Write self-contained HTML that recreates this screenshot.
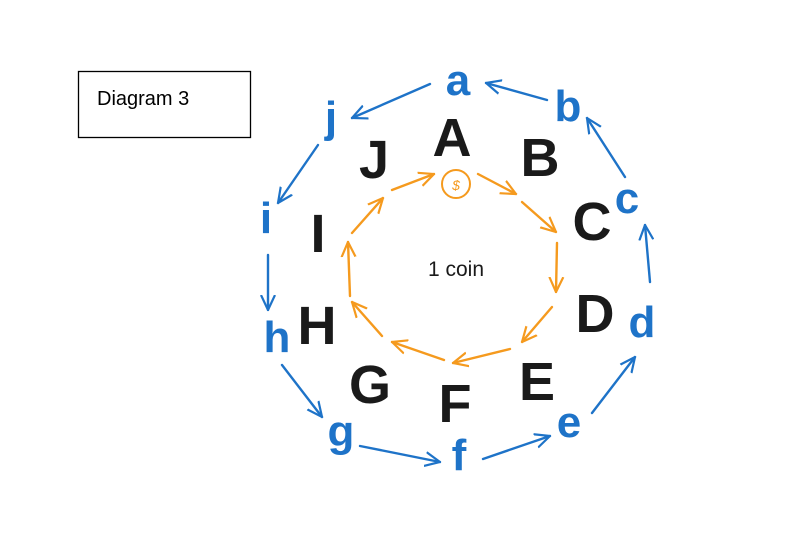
<!DOCTYPE html>
<html><head><meta charset="utf-8"><style>
html,body{margin:0;padding:0;background:#fff;width:793px;height:555px;overflow:hidden}
</style></head><body>
<svg width="793" height="555" viewBox="0 0 793 555" xmlns="http://www.w3.org/2000/svg">
<defs>
<marker id="bh" viewBox="0 0 16 16" refX="15" refY="8" markerWidth="16" markerHeight="16" markerUnits="userSpaceOnUse" orient="auto"><path d="M0,1 L15,8 L0,15" fill="none" stroke="#1e73c8" stroke-width="2.2"/></marker>
<marker id="oh" viewBox="0 0 16 16" refX="15" refY="8" markerWidth="16" markerHeight="16" markerUnits="userSpaceOnUse" orient="auto"><path d="M0,1 L15,8 L0,15" fill="none" stroke="#f59a1e" stroke-width="2.2"/></marker>
</defs>
<rect x="78.5" y="71.5" width="172" height="66" fill="#fff" stroke="#000" stroke-width="1.3"/>
<text x="97" y="105" font-family="Liberation Sans, sans-serif" font-size="20" fill="#000">Diagram 3</text>

<g stroke="#1e73c8" stroke-width="2.4" fill="none" marker-end="url(#bh)" stroke-linecap="round">
<line x1="547" y1="100" x2="486" y2="83"/>
<line x1="430" y1="84" x2="352" y2="118"/>
<line x1="318" y1="145" x2="278" y2="203"/>
<line x1="268" y1="255" x2="268" y2="310"/>
<line x1="282" y1="365" x2="322" y2="417"/>
<line x1="360" y1="446" x2="440" y2="462"/>
<line x1="483" y1="459" x2="550" y2="436"/>
<line x1="592" y1="413" x2="635" y2="357"/>
<line x1="650" y1="282" x2="645" y2="225"/>
<line x1="625" y1="177" x2="587" y2="118"/>
</g>
<g stroke="#f59a1e" stroke-width="2.4" fill="none" marker-end="url(#oh)" stroke-linecap="round">
<line x1="478" y1="174" x2="516" y2="194"/>
<line x1="522" y1="202" x2="556" y2="232"/>
<line x1="557" y1="243" x2="556" y2="292"/>
<line x1="552" y1="307" x2="522" y2="342"/>
<line x1="510" y1="349" x2="453" y2="363"/>
<line x1="444" y1="360" x2="392" y2="342"/>
<line x1="382" y1="336" x2="352" y2="302"/>
<line x1="350" y1="296" x2="348" y2="242"/>
<line x1="352" y1="233" x2="383" y2="198"/>
<line x1="392" y1="190" x2="434" y2="174"/>
</g>
<circle cx="456" cy="184" r="14" fill="none" stroke="#f59a1e" stroke-width="2"/>
<text x="456" y="190" text-anchor="middle" font-family="Liberation Sans, sans-serif" font-size="14" font-style="italic" fill="#f59a1e">$</text>

<g font-family="Liberation Sans, sans-serif" font-weight="bold" font-size="54" fill="#1a1a1a" text-anchor="middle">
<text x="452" y="156">A</text>
<text x="540" y="176">B</text>
<text x="592" y="240">C</text>
<text x="595" y="332">D</text>
<text x="537" y="400">E</text>
<text x="455" y="422">F</text>
<text x="370" y="403">G</text>
<text x="317" y="344">H</text>
<text x="318" y="252">I</text>
<text x="374" y="178">J</text>
</g>
<g font-family="Liberation Sans, sans-serif" font-weight="bold" font-size="44" fill="#1e73c8" text-anchor="middle">
<text x="458" y="95">a</text>
<text x="568" y="121">b</text>
<text x="627" y="213">c</text>
<text x="642" y="337">d</text>
<text x="569" y="437">e</text>
<text x="459" y="470">f</text>
<text x="341" y="446">g</text>
<text x="277" y="352">h</text>
<text x="266" y="233">i</text>
<text x="331" y="132">j</text>
</g>
<text x="456" y="276" text-anchor="middle" font-family="Liberation Sans, sans-serif" font-size="21" fill="#1a1a1a">1 coin</text>
</svg>
</body></html>
